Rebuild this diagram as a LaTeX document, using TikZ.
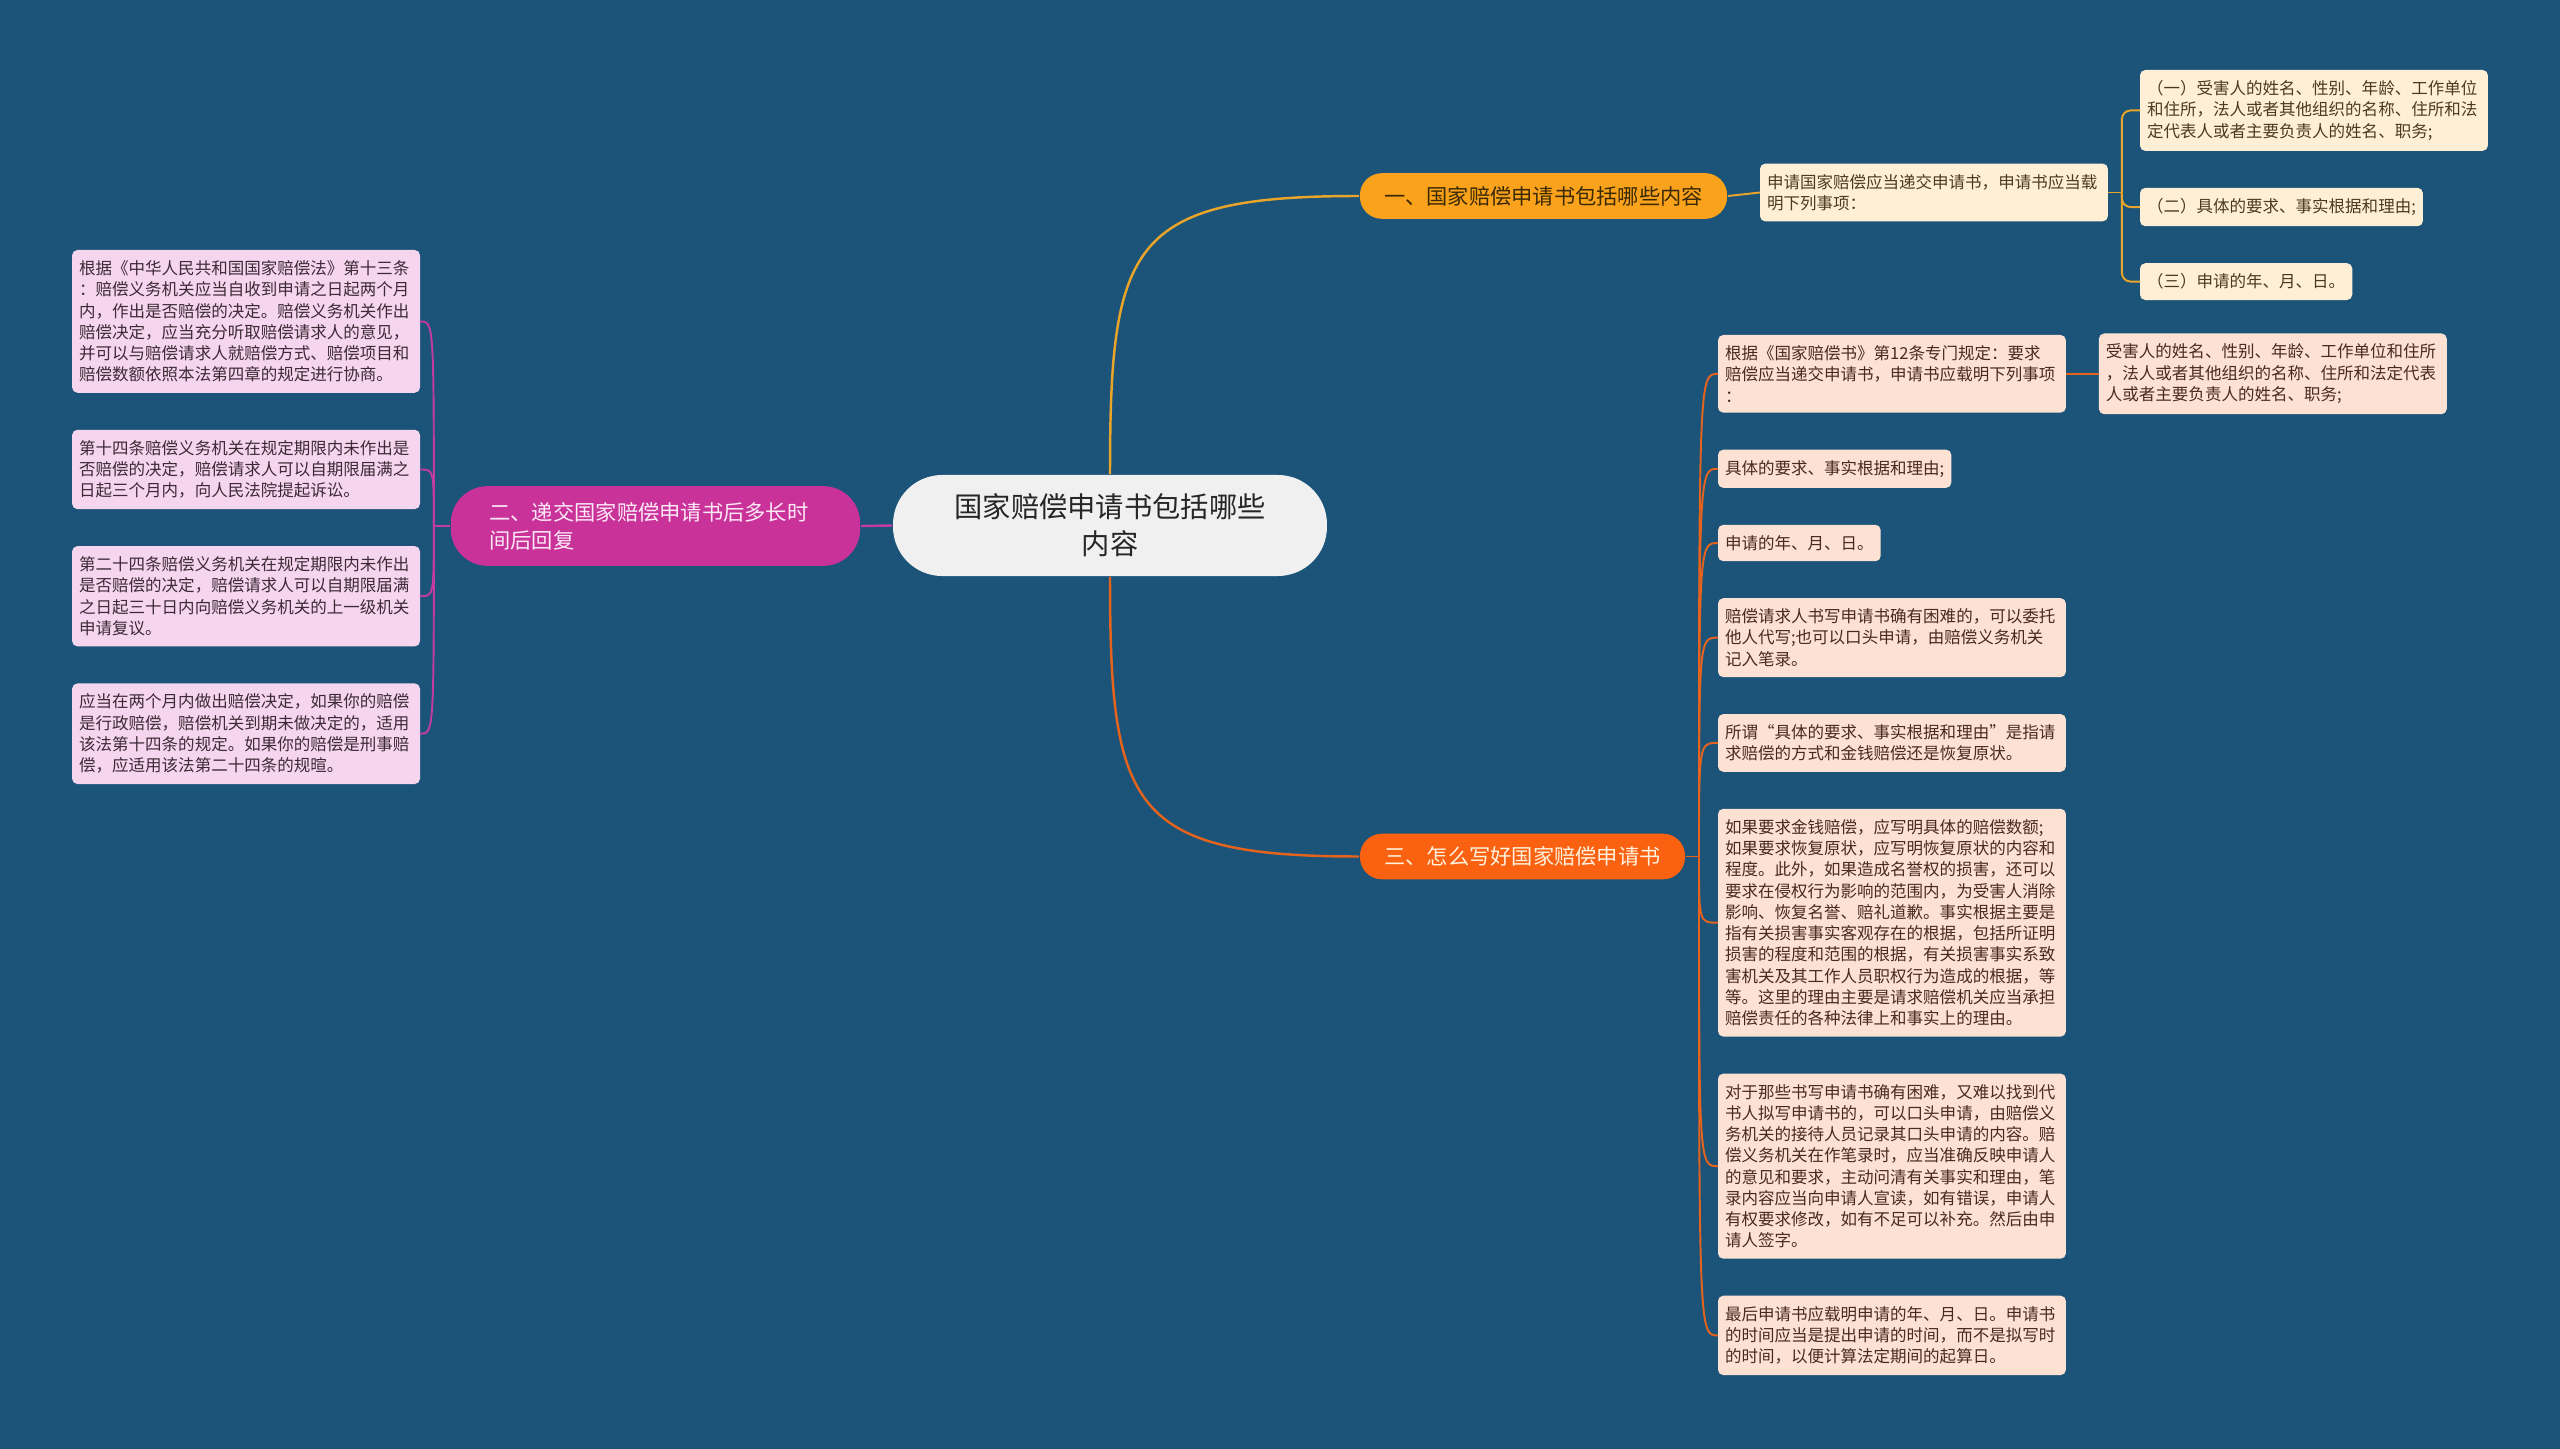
\documentclass[tikz,border=0pt]{standalone}
\usepackage{fontspec}
\setmainfont{Noto Sans CJK SC}
\usetikzlibrary{positioning}

\definecolor{bgblue}{HTML}{1B5379}
\definecolor{rootfill}{HTML}{F0F0F0}
\definecolor{onefill}{HTML}{FAA21B}
\definecolor{twofill}{HTML}{C93399}
\definecolor{threefill}{HTML}{FA6111}
\definecolor{onetext}{HTML}{3A2A05}
\definecolor{twotext}{HTML}{FCE8F6}
\definecolor{threetext}{HTML}{FFF1DC}
\definecolor{oneline}{HTML}{E9A52A}
\definecolor{twoline}{HTML}{C13C9C}
\definecolor{threeline}{HTML}{E5631C}
\definecolor{creamfill}{HTML}{FFF0D5}
\definecolor{pinkfill}{HTML}{F6D6EE}
\definecolor{peachfill}{HTML}{FDE2D3}
\definecolor{creamtext}{HTML}{4D3A1E}
\definecolor{pinktext}{HTML}{3D2A36}
\definecolor{peachtext}{HTML}{4A2A1E}

\tikzset{
  root/.style={fill=rootfill, text=black!85, rounded corners=28pt, minimum width=247pt,
    minimum height=57.5pt, align=center, font=\fontsize{16.1}{21}\selectfont},
  topic/.style={rounded corners=12.5pt, inner xsep=12pt, minimum height=26pt,
    font=\fontsize{12.1}{16.1}\selectfont},
  leaf/.style={rounded corners=3pt, inner xsep=4pt, inner ysep=6pt, minimum height=20.5pt,
    outer sep=0pt, align=left, font=\fontsize{9.4}{12.1}\selectfont},
  wide/.style={text width=190pt},
  cream/.style={leaf, fill=creamfill, text=creamtext},
  pink/.style={leaf, wide, fill=pinkfill, text=pinktext},
  peach/.style={leaf, fill=peachfill, text=peachtext},
}

\begin{document}
\begin{tikzpicture}[x=0.02cm, y=-0.02cm, node distance=0.74cm, line width=1.1pt]
    \fill[bgblue] (0,0) rectangle (2560,1449);
    \useasboundingbox (0,0) rectangle (2560,1449);

    % Define nodes
    \node[root] (c) at (1110,525.5) {国家赔偿申请书包括哪些\\内容};

    \node[topic, fill=onefill, text=onetext, minimum width=209pt] (b1) at (1543.5,196) {一、国家赔偿申请书包括哪些内容};
    \node[topic, fill=twofill, text=twotext, text width=189pt, inner xsep=22pt, inner ysep=9pt,
      rounded corners=21pt, align=left] (b2) at (655.5,526) {二、递交国家赔偿申请书后多长时\\间后回复};
    \node[topic, fill=threefill, text=threetext, minimum width=185pt] (b3) at (1522.5,856.5) {三、怎么写好国家赔偿申请书};

    % topic one
    \node[cream, wide, anchor=west] (r1) at (1760,192.5) {申请国家赔偿应当递交申请书，申请书应当载\\明下列事项：};
    \node[cream, wide, anchor=north west] (s1) at (2140,70) {（一）受害人的姓名、性别、年龄、工作单位\\和住所，法人或者其他组织的名称、住所和法\\定代表人或者主要负责人的姓名、职务;};
    \node[cream, below=of s1.south west, anchor=north west] (s2) {（二）具体的要求、事实根据和理由;};
    \node[cream, below=of s2.south west, anchor=north west] (s3) {（三）申请的年、月、日。};

    % topic two
    \node[pink, anchor=north east] (l1) at (420,250) {根据《中华人民共和国国家赔偿法》第十三条\\：赔偿义务机关应当自收到申请之日起两个月\\内，作出是否赔偿的决定。赔偿义务机关作出\\赔偿决定，应当充分听取赔偿请求人的意见，\\并可以与赔偿请求人就赔偿方式、赔偿项目和\\赔偿数额依照本法第四章的规定进行协商。};
    \node[pink, below=of l1.south east, anchor=north east] (l2) {第十四条赔偿义务机关在规定期限内未作出是\\否赔偿的决定，赔偿请求人可以自期限届满之\\日起三个月内，向人民法院提起诉讼。};
    \node[pink, below=of l2.south east, anchor=north east] (l3) {第二十四条赔偿义务机关在规定期限内未作出\\是否赔偿的决定，赔偿请求人可以自期限届满\\之日起三十日内向赔偿义务机关的上一级机关\\申请复议。};
    \node[pink, below=of l3.south east, anchor=north east] (l4) {应当在两个月内做出赔偿决定，如果你的赔偿\\是行政赔偿，赔偿机关到期未做决定的，适用\\该法第十四条的规定。如果你的赔偿是刑事赔\\偿，应适用该法第二十四条的规暄。};

    % topic three
    \node[peach, wide, anchor=north west] (t1) at (1718,335) {根据《国家赔偿书》第12条专门规定：要求\\赔偿应当递交申请书，申请书应载明下列事项\\：};
    \node[peach, wide, right=0.66cm of t1] (t1c) {受害人的姓名、性别、年龄、工作单位和住所\\，法人或者其他组织的名称、住所和法定代表\\人或者主要负责人的姓名、职务;};
    \node[peach, below=of t1.south west, anchor=north west] (t2) {具体的要求、事实根据和理由;};
    \node[peach, below=of t2.south west, anchor=north west] (t3) {申请的年、月、日。};
    \node[peach, wide, below=of t3.south west, anchor=north west] (t4) {赔偿请求人书写申请书确有困难的，可以委托\\他人代写;也可以口头申请，由赔偿义务机关\\记入笔录。};
    \node[peach, wide, below=of t4.south west, anchor=north west] (t5) {所谓“具体的要求、事实根据和理由”是指请\\求赔偿的方式和金钱赔偿还是恢复原状。};
    \node[peach, wide, below=of t5.south west, anchor=north west] (t6) {如果要求金钱赔偿，应写明具体的赔偿数额;\\如果要求恢复原状，应写明恢复原状的内容和\\程度。此外，如果造成名誉权的损害，还可以\\要求在侵权行为影响的范围内，为受害人消除\\影响、恢复名誉、赔礼道歉。事实根据主要是\\指有关损害事实客观存在的根据，包括所证明\\损害的程度和范围的根据，有关损害事实系致\\害机关及其工作人员职权行为造成的根据，等\\等。这里的理由主要是请求赔偿机关应当承担\\赔偿责任的各种法律上和事实上的理由。};
    \node[peach, wide, below=of t6.south west, anchor=north west] (t7) {对于那些书写申请书确有困难，又难以找到代\\书人拟写申请书的，可以口头申请，由赔偿义\\务机关的接待人员记录其口头申请的内容。赔\\偿义务机关在作笔录时，应当准确反映申请人\\的意见和要求，主动问清有关事实和理由，笔\\录内容应当向申请人宣读，如有错误，申请人\\有权要求修改，如有不足可以补充。然后由申\\请人签字。};
    \node[peach, wide, below=of t7.south west, anchor=north west] (t8) {最后申请书应载明申请的年、月、日。申请书\\的时间应当是提出申请的时间，而不是拟写时\\的时间，以便计算法定期间的起算日。};

    \coordinate[right=0.28cm of r1.east] (r1s);
    \coordinate[left=0.32cm of b2.west] (b2s);
    \coordinate[right=0.26cm of b3.east] (b3s);

    % root to topics
    \draw[oneline, line width=1.4pt] (c.north) .. controls +(0,-230) and +(-230,0) .. (b1.west);
    \draw[twoline, line width=1.4pt] (c.west) -- (b2.east);
    \draw[threeline, line width=1.4pt] (c.south) .. controls +(0,230) and +(-230,0) .. (b3.west);

    % topic one
    \draw[oneline] (b1.east) -- (r1.west);
    \draw[oneline] (r1.east) -- (r1s);
    \foreach \s in {s1,s2,s3}
        \draw[oneline, rounded corners=5pt] (r1s) |- (\s.west);

    % topic two
    \draw[twoline] (b2.west) -- (b2s);
    \foreach \l in {l1,l2,l3,l4}
        \draw[twoline] (b2s) .. controls (b2s |- \l.east) .. (\l.east);

    % topic three
    \draw[threeline] (b3.east) -- (b3s);
    \foreach \t in {t1,t2,t3,t4,t5,t6,t7,t8}
        \draw[threeline] (b3s) .. controls (b3s |- \t.west) .. (\t.west);
    \draw[threeline] (t1.east) -- (t1c.west);

\end{tikzpicture}
\end{document}
